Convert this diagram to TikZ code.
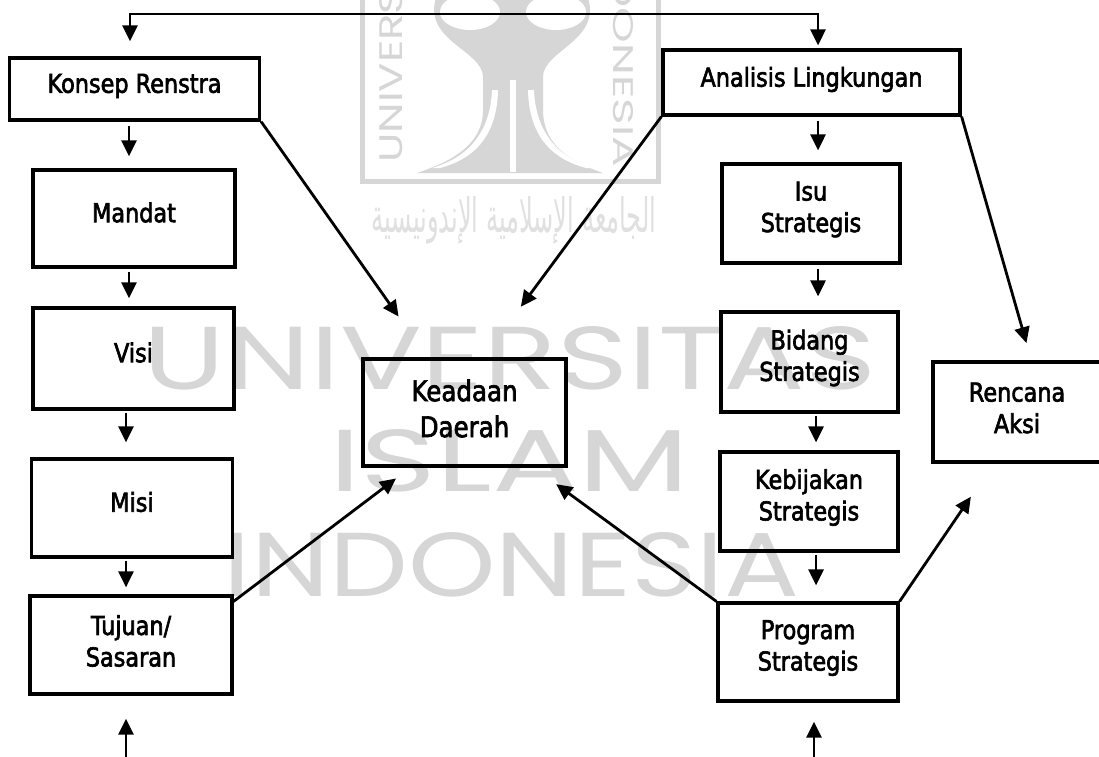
\documentclass[tikz,border=0pt]{standalone}
\usepackage{graphicx}
\usepackage{fontspec}
\setmainfont{DejaVu Sans}[FakeStretch=0.86,FakeBold=2.4]
\newfontfamily\wmfont{Poppins}
\newfontfamily\arabicfont[Script=Arabic]{DejaVu Sans}
\TeXXeTstate=1
\usetikzlibrary{arrows.meta,calc}
\definecolor{wmgray}{RGB}{214,214,214}
\definecolor{wmlight}{RGB}{224,224,224}
\begin{document}
\begin{tikzpicture}[x=1pt,y=-1pt,
  box/.style={draw, line width=3.2pt, inner sep=0pt},
  lbl/.style={font=\fontsize{26}{31.5}\selectfont, align=center, inner sep=0pt},
  biglbl/.style={font=\fontsize{28.5}{36}\selectfont, align=center, inner sep=0pt},
  wm/.style={text=wmgray, inner sep=0pt, font=\wmfont},
  arr/.style={line width=2.8pt, -{Triangle[length=16pt,width=15pt]}},
  dblarr/.style={line width=2.8pt, {Triangle[length=16pt,width=15pt]}-{Triangle[length=16pt,width=15pt]}}]
\fill[white] (0,0) rectangle (1099,756);
\useasboundingbox (0,0) rectangle (1099,756);
% watermark: crest
\draw[wmgray, line width=5pt] (362,-5) -- (362,181) -- (658,181) -- (658,-5);
\fill[wmgray] (437,-5) .. controls (420,40) and (483,50) .. (483,77) -- (483,110)
  .. controls (483,150) and (440,165) .. (417,173) -- (603,173)
  .. controls (580,165) and (543,150) .. (543,110) -- (543,77)
  .. controls (543,50) and (604,40) .. (587,-5) -- cycle;
\fill[white] (470,12) ellipse [x radius=30pt, y radius=18pt];
\fill[white] (556,12) ellipse [x radius=30pt, y radius=18pt];
\fill[white] (510,80) rectangle (516,172);
\fill[white] (492,90) .. controls (490,140) and (460,160) .. (432,168) -- (440,168) .. controls (470,160) and (497,140) .. (498,90) -- cycle;
\fill[white] (534,90) .. controls (536,140) and (566,160) .. (594,168) -- (586,168) .. controls (556,160) and (529,140) .. (528,90) -- cycle;
\node[wm, rotate=90, anchor=south west] (wmv1) at (403,163) {\resizebox{263pt}{23pt}{UNIVERSITAS}};
\node[wm, rotate=-90, anchor=south east] (wmv2) at (613,167) {\resizebox{234pt}{20pt}{INDONESIA}};
\node[inner sep=0pt, text=wmlight] (wmar) at (514,220) {\resizebox{285pt}{36pt}{\arabicfont\beginR الجامعة الإسلامية الإندونيسية\endR}};
% watermark: words
\node[wm] (wm1) at (510,358.5) {\resizebox{732pt}{63pt}{UNIVERSITAS}};
\node[wm] (wm2) at (509.5,461) {\resizebox{361pt}{62pt}{ISLAM}};
\node[wm] (wm3) at (511.5,565) {\resizebox{575pt}{64pt}{INDONESIA}};
% boxes
\node[box, minimum width=250pt, minimum height=62pt] (konsep) at (134.5,89) {};
\node[box, minimum width=202pt, minimum height=97pt] (mandat) at (134,218.5) {};
\node[box, minimum width=201pt, minimum height=101pt] (visi) at (133.5,358.5) {};
\node[box, minimum width=201pt, minimum height=98pt] (misi) at (132,508) {};
\node[box, minimum width=202pt, minimum height=98pt] (tujuan) at (131,645) {};
\node[box, minimum width=203pt, minimum height=107pt] (keadaan) at (464.5,412.5) {};
\node[box, minimum width=297pt, minimum height=65pt] (analisis) at (811.5,82.5) {};
\node[box, minimum width=178pt, minimum height=99pt] (isu) at (811,213.5) {};
\node[box, minimum width=177pt, minimum height=100pt] (bidang) at (809.5,362) {};
\node[box, minimum width=178pt, minimum height=99pt] (kebijakan) at (809,501.5) {};
\node[box, minimum width=180pt, minimum height=98pt] (program) at (808,652) {};
\node[box, minimum width=174pt, minimum height=100pt] (rencana) at (1020,412) {};
% labels
\node[lbl] (tkonsep) at ([yshift=3pt]konsep.center) {Konsep Renstra};
\node[lbl] (tmandat) at ([yshift=6pt]mandat.center) {Mandat};
\node[lbl] (tvisi) at ([yshift=6pt]visi.center) {Visi};
\node[lbl] (tmisi) at ([yshift=6pt]misi.center) {Misi};
\node[lbl] (ttujuan) at ([yshift=4pt]tujuan.center) {Tujuan/\\Sasaran};
\node[biglbl] (tkeadaan) at ([yshift=4pt]keadaan.center) {Keadaan\\Daerah};
\node[lbl] (tanalisis) at ([yshift=3pt]analisis.center) {Analisis Lingkungan};
\node[lbl] (tisu) at ([yshift=4pt]isu.center) {Isu\\Strategis};
\node[lbl] (tbidang) at ([yshift=4pt]bidang.center) {Bidang\\Strategis};
\node[lbl] (tkebijakan) at ([yshift=4pt]kebijakan.center) {Kebijakan\\Strategis};
\node[lbl] (tprogram) at ([yshift=4pt]program.center) {Program\\Strategis};
\node[lbl] (trencana) at ([xshift=-3pt,yshift=4pt]rencana.center) {Rencana\\Aksi};
% helper coordinates
\coordinate (cL0) at (130,14);
\coordinate (cR0) at (818,14);
\coordinate (cL1) at (129,0);
\coordinate (cL2) at (126,0);
\coordinate (cR1) at (818,0);
\coordinate (cR2) at (816,0);
\coordinate (bL) at (126,760);
\coordinate (bR) at (814,760);
% top bracket
\draw[dblarr] ([yshift=15pt]konsep.north -| cL0) -- (cL0) -- (cR0) -- ([yshift=3pt]analisis.north -| cR0);
% left column
\draw[arr, shorten <=4pt, shorten >=12pt] (konsep.south -| cL1) -- (mandat.north -| cL1);
\draw[arr, shorten <=3pt, shorten >=8pt] (mandat.south -| cL1) -- (visi.north -| cL1);
\draw[arr, shorten <=2pt, shorten >=15pt] (visi.south -| cL2) -- (misi.north -| cL2);
\draw[arr, shorten <=2pt, shorten >=7pt] (misi.south -| cL2) -- (tujuan.north -| cL2);
\draw[arr] (bL) -- ([yshift=-23pt]tujuan.south -| bL);
% right column
\draw[arr, shorten <=4pt, shorten >=12pt] (analisis.south -| cR1) -- (isu.north -| cR1);
\draw[arr, shorten <=4pt, shorten >=14pt] (isu.south -| cR1) -- (bidang.north -| cR1);
\draw[arr, shorten <=2pt, shorten >=8pt] (bidang.south -| cR2) -- (kebijakan.north -| cR2);
\draw[arr, shorten <=2pt, shorten >=16pt] (kebijakan.south -| cR2) -- (program.north -| cR2);
\draw[arr] (bR) -- ([yshift=-19pt]program.south -| bR);
% diagonals
\draw[arr, shorten >=50pt] (konsep.south east) -- ($(keadaan.north west)+(66,0)$);
\draw[arr, shorten >=63pt] (analisis.south west) -- ($(keadaan.north west)+(122,0)$);
\draw[arr, shorten >=18pt] ($(tujuan.north east)+(0,7)$) -- ($(keadaan.south west)+(49,0)$);
\draw[arr, shorten >=28pt] (program.north west) -- ($(keadaan.south east)+(-34,0)$);
\draw[arr, shorten >=40pt] (program.north east) -- ($(rencana.south west)+(62,0)$);
\draw[arr, shorten >=18pt] (analisis.south east) -- ($(rencana.north west)+(100,0)$);
\end{tikzpicture}
\end{document}
